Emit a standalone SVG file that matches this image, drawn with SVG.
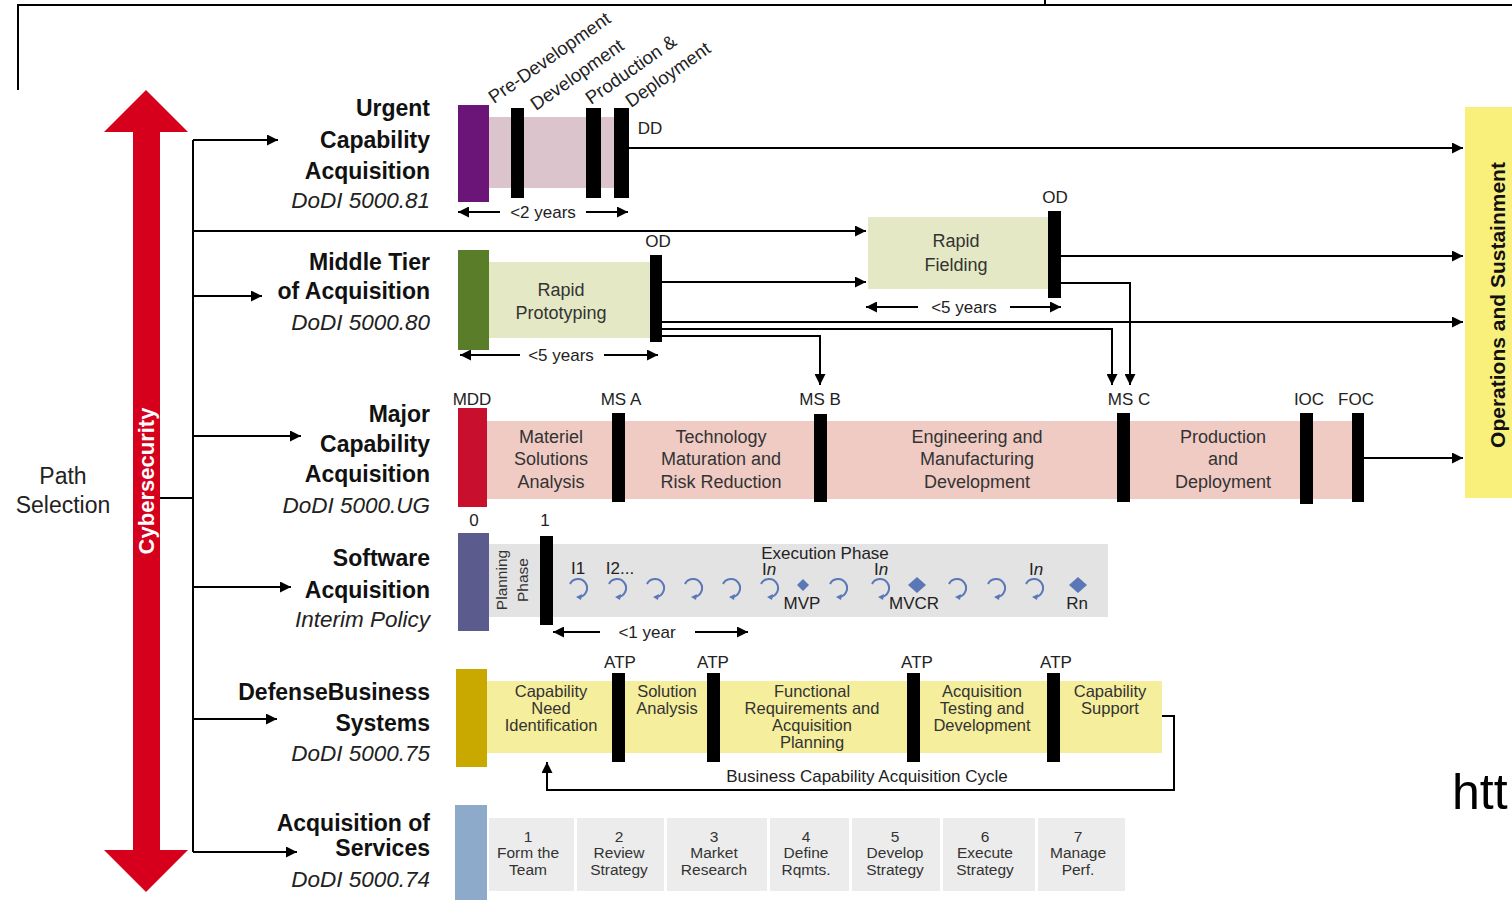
<svg xmlns="http://www.w3.org/2000/svg" width="1512" height="900" viewBox="0 0 1512 900">
<defs>
<style>
.ln{fill:none;stroke:#000;stroke-width:2}
.arr{marker-end:url(#ah)}
.dim{marker-end:url(#ah)}
.lbl{font-family:"Liberation Sans",Arial,sans-serif;font-weight:bold;font-size:23px;fill:#111;text-anchor:end}
.doc{font-family:"Liberation Sans",Arial,sans-serif;font-style:italic;font-size:22.5px;fill:#222;text-anchor:end}
.ph{font-family:"Liberation Sans",Arial,sans-serif;font-size:18px;fill:#333;text-anchor:middle}
.pd{font-family:"Liberation Sans",Arial,sans-serif;font-size:16.5px;fill:#333;text-anchor:middle}
.ms{font-family:"Liberation Sans",Arial,sans-serif;font-size:17px;fill:#222;text-anchor:middle}
.sm{font-family:"Liberation Sans",Arial,sans-serif;font-size:15.5px;fill:#333;text-anchor:middle}
.rot{font-family:"Liberation Sans",Arial,sans-serif;font-size:18.5px;fill:#222}
.bar{fill:#000}
.cyc{fill:none;stroke:#5a78b8;stroke-width:2}
.dia{fill:#5a78b8}
</style>
<marker id="ah" viewBox="0 0 10 10" refX="10" refY="5" markerWidth="11" markerHeight="11" markerUnits="userSpaceOnUse" orient="auto-start-reverse">
<path d="M0,0 L10,5 L0,10 z" fill="#000"/>
</marker>
<symbol id="cy" viewBox="-12 -12 24 24" overflow="visible">
<path class="cyc" d="M-8,-4 A9,9 0 1 1 1,9"/>
<path d="M4,6 L-2,9 L3,12 z" fill="#5a78b8"/>
</symbol>
</defs>

<!-- frame -->
<g id="frame">
<path class="ln" d="M18,90 V5 H1512"/>
<path class="ln" d="M1045,0 V5"/>
</g>

<!-- path selection / cybersecurity -->
<g id="path-selection">
<text x="63" y="484" font-family="Liberation Sans,Arial,sans-serif" font-size="23" fill="#222" text-anchor="middle">Path</text>
<text x="63" y="513" font-family="Liberation Sans,Arial,sans-serif" font-size="23" fill="#222" text-anchor="middle">Selection</text>
</g>
<g id="cybersecurity">
<path d="M146,90 L188,132 L160,132 L160,850 L188,850 L146,892 L104,850 L133,850 L133,132 L104,132 z" fill="#d6001c"/>
<text transform="translate(154,481) rotate(-90)" font-family="Liberation Sans,Arial,sans-serif" font-weight="bold" font-size="22" fill="#fff" text-anchor="middle">Cybersecurity</text>
</g>

<!-- labels -->
<g id="label-urgent">
<text class="lbl" x="430" y="116">Urgent</text>
<text class="lbl" x="430" y="148">Capability</text>
<text class="lbl" x="430" y="179">Acquisition</text>
<text class="doc" x="430" y="208">DoDI 5000.81</text>
</g>
<g id="label-middle">
<text class="lbl" x="430" y="270">Middle Tier</text>
<text class="lbl" x="430" y="299">of Acquisition</text>
<text class="doc" x="430" y="330">DoDI 5000.80</text>
</g>
<g id="label-major">
<text class="lbl" x="430" y="422">Major</text>
<text class="lbl" x="430" y="452">Capability</text>
<text class="lbl" x="430" y="482">Acquisition</text>
<text class="doc" x="430" y="513">DoDI 5000.UG</text>
</g>
<g id="label-software">
<text class="lbl" x="430" y="566">Software</text>
<text class="lbl" x="430" y="598">Acquisition</text>
<text class="doc" x="430" y="627">Interim Policy</text>
</g>
<g id="label-dbs">
<text class="lbl" x="430" y="700">DefenseBusiness</text>
<text class="lbl" x="430" y="731">Systems</text>
<text class="doc" x="430" y="761">DoDI 5000.75</text>
</g>
<g id="label-services">
<text class="lbl" x="430" y="831">Acquisition of</text>
<text class="lbl" x="430" y="856">Services</text>
<text class="doc" x="430" y="887">DoDI 5000.74</text>
</g>

<!-- Urgent row -->
<g id="urgent">
<rect x="489" y="117" width="139" height="71" fill="#dcc4cc"/>
<rect x="458" y="105" width="31" height="97" fill="#6a1577"/>
<rect class="bar" x="511" y="108" width="13" height="90"/>
<rect class="bar" x="586" y="108" width="15" height="90"/>
<rect class="bar" x="614" y="108" width="15" height="90"/>
<text class="rot" transform="translate(494,104) rotate(-35)">Pre-Development</text>
<text class="rot" transform="translate(536,111) rotate(-35)">Development</text>
<text class="rot" transform="translate(591,105) rotate(-35)">Production &amp;</text>
<text class="rot" transform="translate(631,108) rotate(-35)">Deployment</text>
<text class="ms" x="650" y="134">DD</text>
<text class="ms" x="543" y="218">&lt;2 years</text>
</g>

<!-- Middle tier -->
<g id="rapid-prototyping">
<rect x="489" y="262" width="161" height="76" fill="#e4e8c4"/>
<rect x="458" y="250" width="31" height="100" fill="#5a7d2a"/>
<rect class="bar" x="650" y="255" width="12" height="87"/>
<text class="ph" x="561" y="296">Rapid</text>
<text class="ph" x="561" y="319">Prototyping</text>
<text class="ms" x="658" y="247">OD</text>
<text class="ms" x="561" y="361">&lt;5 years</text>
</g>
<g id="rapid-fielding">
<rect x="868" y="217" width="180" height="72" fill="#e4e8c4"/>
<rect class="bar" x="1048" y="211" width="13" height="87"/>
<text class="ph" x="956" y="247">Rapid</text>
<text class="ph" x="956" y="271">Fielding</text>
<text class="ms" x="1055" y="203">OD</text>
<text class="ms" x="964" y="313">&lt;5 years</text>
</g>

<!-- Major capability -->
<g id="major">
<rect x="487" y="421" width="873" height="78" fill="#efcbc4"/>
<rect x="458" y="408" width="29" height="99" fill="#c8102e"/>
<rect class="bar" x="612" y="413" width="13" height="89"/>
<rect class="bar" x="814" y="414" width="13" height="88"/>
<rect class="bar" x="1117" y="413" width="13" height="89"/>
<rect class="bar" x="1300" y="413" width="13" height="91"/>
<rect class="bar" x="1352" y="413" width="12" height="89"/>
<text class="ms" x="472" y="405">MDD</text>
<text class="ms" x="621" y="405">MS A</text>
<text class="ms" x="820" y="405">MS B</text>
<text class="ms" x="1129" y="405">MS C</text>
<text class="ms" x="1309" y="405">IOC</text>
<text class="ms" x="1356" y="405">FOC</text>
<text class="ph" x="551" y="443">Materiel</text>
<text class="ph" x="551" y="465">Solutions</text>
<text class="ph" x="551" y="488">Analysis</text>
<text class="ph" x="721" y="443">Technology</text>
<text class="ph" x="721" y="465">Maturation and</text>
<text class="ph" x="721" y="488">Risk Reduction</text>
<text class="ph" x="977" y="443">Engineering and</text>
<text class="ph" x="977" y="465">Manufacturing</text>
<text class="ph" x="977" y="488">Development</text>
<text class="ph" x="1223" y="443">Production</text>
<text class="ph" x="1223" y="465">and</text>
<text class="ph" x="1223" y="488">Deployment</text>
</g>

<!-- Operations and Sustainment -->
<g id="ops-sustainment">
<rect x="1465" y="107" width="47" height="391" fill="#f9f07c"/>
<text transform="translate(1505,305) rotate(-90)" font-family="Liberation Sans,Arial,sans-serif" font-weight="bold" font-size="21" fill="#111" text-anchor="middle">Operations and Sustainment</text>
</g>

<!-- Software -->
<g id="software">
<rect x="489" y="544" width="619" height="73" fill="#e3e3e3"/>
<rect x="458" y="533" width="31" height="98" fill="#5b5b8e"/>
<rect class="bar" x="540" y="536" width="13" height="89"/>
<text class="ms" x="474" y="526">0</text>
<text class="ms" x="545" y="526">1</text>
<text class="sm" transform="translate(507,580) rotate(-90)">Planning</text>
<text class="sm" transform="translate(528,580) rotate(-90)">Phase</text>
<text class="ms" x="825" y="559">Execution Phase</text>
<text class="ms" x="578" y="574">I1</text>
<text class="ms" x="620" y="574">I2...</text>
<text class="ms" x="769" y="575">I<tspan font-style="italic">n</tspan></text>
<text class="ms" x="881" y="575">I<tspan font-style="italic">n</tspan></text>
<text class="ms" x="1036" y="575">I<tspan font-style="italic">n</tspan></text>
<use href="#cy" x="566" y="576" width="24" height="24"/>
<use href="#cy" x="605" y="576" width="24" height="24"/>
<use href="#cy" x="643" y="576" width="24" height="24"/>
<use href="#cy" x="681" y="576" width="24" height="24"/>
<use href="#cy" x="719" y="576" width="24" height="24"/>
<use href="#cy" x="757" y="576" width="24" height="24"/>
<use href="#cy" x="826" y="576" width="24" height="24"/>
<use href="#cy" x="868" y="576" width="24" height="24"/>
<use href="#cy" x="945" y="576" width="24" height="24"/>
<use href="#cy" x="984" y="576" width="24" height="24"/>
<use href="#cy" x="1022" y="576" width="24" height="24"/>
<path class="dia" d="M803,579 L809,585 L803,591 L797,585 z"/>
<path class="dia" d="M917,577 L926,585 L917,593 L908,585 z"/>
<path class="dia" d="M1078,577 L1087,585 L1078,593 L1069,585 z"/>
<text class="ms" x="802" y="609">MVP</text>
<text class="ms" x="914" y="609">MVCR</text>
<text class="ms" x="1077" y="609">Rn</text>
<text class="ms" x="647" y="638">&lt;1 year</text>
</g>

<!-- Defense Business Systems -->
<g id="dbs">
<rect x="487" y="681" width="675" height="72" fill="#f5ee9c"/>
<rect x="456" y="669" width="31" height="98" fill="#c9a800"/>
<rect class="bar" x="612" y="673" width="13" height="89"/>
<rect class="bar" x="707" y="673" width="13" height="89"/>
<rect class="bar" x="907" y="673" width="13" height="89"/>
<rect class="bar" x="1047" y="673" width="13" height="89"/>
<text class="ms" x="620" y="668">ATP</text>
<text class="ms" x="713" y="668">ATP</text>
<text class="ms" x="917" y="668">ATP</text>
<text class="ms" x="1056" y="668">ATP</text>
<text class="pd" x="551" y="697">Capability</text>
<text class="pd" x="551" y="714">Need</text>
<text class="pd" x="551" y="731">Identification</text>
<text class="pd" x="667" y="697">Solution</text>
<text class="pd" x="667" y="714">Analysis</text>
<text class="pd" x="812" y="697">Functional</text>
<text class="pd" x="812" y="714">Requirements and</text>
<text class="pd" x="812" y="731">Acquisition</text>
<text class="pd" x="812" y="748">Planning</text>
<text class="pd" x="982" y="697">Acquisition</text>
<text class="pd" x="982" y="714">Testing and</text>
<text class="pd" x="982" y="731">Development</text>
<text class="pd" x="1110" y="697">Capability</text>
<text class="pd" x="1110" y="714">Support</text>
<text class="ms" x="867" y="782">Business Capability Acquisition Cycle</text>
</g>

<!-- Acquisition of Services -->
<g id="services">
<rect x="455" y="805" width="32" height="95" fill="#8eaacb"/>
<rect x="489" y="818" width="85" height="73" fill="#ececec"/>
<rect x="577" y="818" width="87" height="73" fill="#ececec"/>
<rect x="667" y="818" width="100" height="73" fill="#ececec"/>
<rect x="770" y="818" width="79" height="73" fill="#ececec"/>
<rect x="852" y="818" width="88" height="73" fill="#ececec"/>
<rect x="943" y="818" width="92" height="73" fill="#ececec"/>
<rect x="1038" y="818" width="87" height="73" fill="#ececec"/>
<text class="sm" x="528" y="842">1</text><text class="sm" x="528" y="858">Form the</text><text class="sm" x="528" y="875">Team</text>
<text class="sm" x="619" y="842">2</text><text class="sm" x="619" y="858">Review</text><text class="sm" x="619" y="875">Strategy</text>
<text class="sm" x="714" y="842">3</text><text class="sm" x="714" y="858">Market</text><text class="sm" x="714" y="875">Research</text>
<text class="sm" x="806" y="842">4</text><text class="sm" x="806" y="858">Define</text><text class="sm" x="806" y="875">Rqmts.</text>
<text class="sm" x="895" y="842">5</text><text class="sm" x="895" y="858">Develop</text><text class="sm" x="895" y="875">Strategy</text>
<text class="sm" x="985" y="842">6</text><text class="sm" x="985" y="858">Execute</text><text class="sm" x="985" y="875">Strategy</text>
<text class="sm" x="1078" y="842">7</text><text class="sm" x="1078" y="858">Manage</text><text class="sm" x="1078" y="875">Perf.</text>
</g>

<g id="url-fragment">
<text x="1452" y="809" font-family="Liberation Sans,Arial,sans-serif" font-size="50" fill="#000">htt</text>
</g>

<!-- connectors -->
<g id="connectors">
<path class="ln" d="M160,498 H193"/>
<path class="ln" d="M193,140 V852"/>
<path class="ln arr" d="M193,140 H278"/>
<path class="ln arr" d="M193,231 H866"/>
<path class="ln arr" d="M193,296 H262"/>
<path class="ln arr" d="M193,436 H301"/>
<path class="ln arr" d="M193,587 H291"/>
<path class="ln arr" d="M193,719 H277"/>
<path class="ln arr" d="M193,852 H297"/>
<path class="ln arr" d="M629,148 H1463"/>
<path class="ln arr" d="M662,282 H866"/>
<path class="ln arr" d="M662,322 H1463"/>
<path class="ln arr" d="M662,329 H1112 V385"/>
<path class="ln arr" d="M662,336 H820 V385"/>
<path class="ln arr" d="M1061,256 H1463"/>
<path class="ln arr" d="M1061,283 H1130 V385"/>
<path class="ln arr" d="M1364,458 H1463"/>
<path class="ln arr" d="M1162,716 H1174 V790 H547 V762"/>
<path class="ln dim" d="M500,212 H458"/>
<path class="ln dim" d="M586,212 H628"/>
<path class="ln dim" d="M520,355 H460"/>
<path class="ln dim" d="M604,355 H658"/>
<path class="ln dim" d="M918,307 H866"/>
<path class="ln dim" d="M1010,307 H1061"/>
<path class="ln dim" d="M600,632 H553"/>
<path class="ln dim" d="M695,632 H748"/>
</g>
</svg>
